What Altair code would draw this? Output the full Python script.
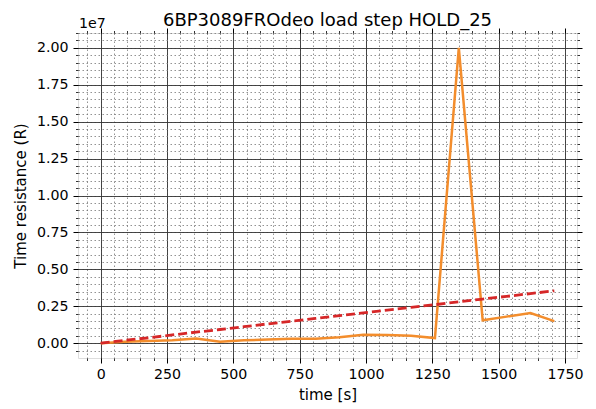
import altair as alt
import pandas as pd

# ---- data ----
time_s = [0, 90, 180, 270, 360, 450, 540, 630, 720, 810, 900, 990,
          1080, 1170, 1260, 1350, 1440, 1530, 1620, 1710]
measured = [0.0, 0.10e6, 0.15e6, 0.20e6, 0.32e6, 0.10e6, 0.20e6, 0.25e6,
            0.30e6, 0.30e6, 0.40e6, 0.57e6, 0.55e6, 0.50e6, 0.35e6,
            2.0e7, 1.55e6, 1.80e6, 2.05e6, 1.50e6]
reference = [0.0, 0.19e6, 0.37e6, 0.56e6, 0.75e6, 0.93e6, 1.12e6, 1.31e6,
             1.49e6, 1.68e6, 1.87e6, 2.05e6, 2.24e6, 2.43e6, 2.61e6,
             2.80e6, 2.99e6, 3.17e6, 3.36e6, 3.55e6]

x_major = [0, 250, 500, 750, 1000, 1250, 1500, 1750]
x_minor = [-50, 0, 50, 100, 150, 200, 250, 300, 350, 400, 450, 500, 550, 600,
           650, 700, 750, 800, 850, 900, 950, 1000, 1050, 1100, 1150, 1200,
           1250, 1300, 1350, 1400, 1450, 1500, 1550, 1600, 1650, 1700, 1750]
y_major = [0, 2.5e6, 5.0e6, 7.5e6, 1.0e7, 1.25e7, 1.5e7, 1.75e7, 2.0e7]
y_minor = [-5e5 + 5e5 * i for i in range(44)]

title_text = "6BP3089FROdeo load step HOLD_25"
x_title = "time [s]"
y_title = "Time resistance (R)"
offset_text = "1e7"

df = pd.DataFrame({"time": time_s, "measured": measured, "reference": reference})

FONT = "DejaVu Sans"
FS = 14.2
TFS = 15
xs = alt.Scale(domain=[-85.5, 1795.5], nice=False, zero=False)
ys = alt.Scale(domain=[-1.0e6, 2.1e7], nice=False, zero=False)

base = alt.Chart(df)

# minor grid + minor ticks bottom/left
minor_bl = base.mark_line(opacity=0).encode(
    x=alt.X("time:Q", scale=xs, axis=alt.Axis(
        orient="bottom", values=x_minor, grid=True, gridColor="#777",
        gridDash=[1.5, 2.5], gridWidth=0.8, labels=False, title=None, domain=False,
        tickSize=2.5, tickColor="black", tickWidth=0.8)),
    y=alt.Y("reference:Q", scale=ys, axis=alt.Axis(
        orient="left", values=y_minor, grid=True, gridColor="#777",
        gridDash=[1.5, 2.5], gridWidth=0.8, labels=False, title=None, domain=False,
        tickSize=2.5, tickColor="black", tickWidth=0.8)),
)

# minor ticks top/right
minor_tr = base.mark_line(opacity=0).encode(
    x=alt.X("time:Q", scale=xs, axis=alt.Axis(
        orient="top", values=x_minor, grid=False, labels=False, title=None,
        domain=False, tickSize=2.5, tickColor="black", tickWidth=0.8)),
    y=alt.Y("reference:Q", scale=ys, axis=alt.Axis(
        orient="right", values=y_minor, grid=False, labels=False, title=None,
        domain=False, tickSize=2.5, tickColor="black", tickWidth=0.8)),
)

# major ticks top/right
major_tr = base.mark_line(opacity=0).encode(
    x=alt.X("time:Q", scale=xs, axis=alt.Axis(
        orient="top", values=x_major, grid=False, labels=False, title=None,
        domain=False, tickSize=5, tickColor="black", tickWidth=1)),
    y=alt.Y("reference:Q", scale=ys, axis=alt.Axis(
        orient="right", values=y_major, grid=False, labels=False, title=None,
        domain=False, tickSize=5, tickColor="black", tickWidth=1)),
)

# orange measured line
orange = base.mark_line(color="#f38d2c", strokeWidth=2.5).encode(
    x=alt.X("time:Q", scale=xs, axis=None),
    y=alt.Y("measured:Q", scale=ys, axis=None),
)

# red dashed reference line carrying the labelled major axes
red = base.mark_line(color="#d62728", strokeWidth=2.8, strokeDash=[9, 4]).encode(
    x=alt.X("time:Q", scale=xs, axis=alt.Axis(
        orient="bottom", values=x_major, grid=True, gridColor="#333",
        gridWidth=0.9, title=x_title, domain=False, tickSize=5,
        tickColor="black", tickWidth=1, labelPadding=4, labelFontSize=FS,
        labelFont=FONT, labelColor="black", titleFont=FONT, titleFontSize=TFS,
        titleFontWeight="normal", titleColor="black", titlePadding=6,
        format="d", labelFlush=False)),
    y=alt.Y("reference:Q", scale=ys, axis=alt.Axis(
        orient="left", values=y_major, grid=True, gridColor="#333",
        gridWidth=0.9, title=y_title, domain=False, tickSize=5,
        tickColor="black", tickWidth=1, labelPadding=5, labelFontSize=FS,
        labelFont=FONT, labelColor="black", titleFont=FONT, titleFontSize=TFS,
        titleFontWeight="normal", titleColor="black", titlePadding=8,
        labelExpr="format(datum.value / 10000000, '.2f')", labelFlush=False)),
)

offset_label = alt.Chart(pd.DataFrame({"t": [offset_text]})).mark_text(
    align="left", baseline="bottom", font=FONT, fontSize=FS, color="black"
).encode(text="t:N", x=alt.value(1), y=alt.value(-2))

title_label = alt.Chart(pd.DataFrame({"t": [title_text]})).mark_text(
    align="center", baseline="alphabetic", font=FONT, fontSize=18, color="black"
).encode(text="t:N", x=alt.value(249.5), y=alt.value(-7))

chart = alt.layer(minor_bl, minor_tr, major_tr, orange, red, offset_label,
                  title_label).resolve_axis(
    x="independent", y="independent"
).properties(
    width=499, height=325,
    autosize=alt.AutoSizeParams(type="none"),
    padding={"left": 70, "top": 25, "right": 11, "bottom": 48},
).configure_view(stroke="black", strokeWidth=1).configure(background="white")

chart.save("out.html", embed_options={"renderer": "svg", "actions": False})
